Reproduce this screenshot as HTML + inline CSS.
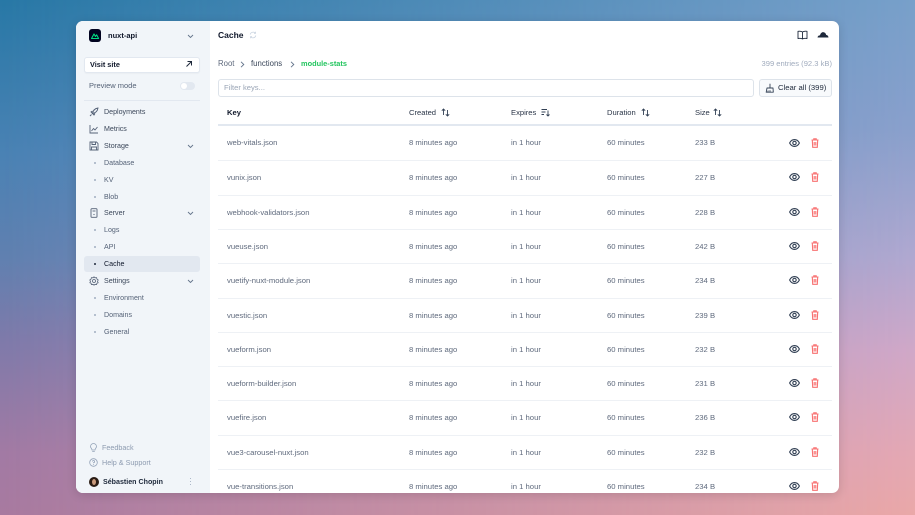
<!DOCTYPE html>
<html><head><meta charset="utf-8"><style>
*{margin:0;padding:0;box-sizing:border-box}
html,body{width:915px;height:515px;overflow:hidden}
body{position:relative;font-family:"Liberation Sans",Arial,sans-serif;}
.bgl{position:absolute;left:0;top:0;width:915px;height:515px;background:linear-gradient(to bottom,#2878a6 0%,#4a82b4 30%,#6080b0 50%,#7e7aaa 66%,#a27aa4 88%,#a87aa0 100%)}
.bgr{position:absolute;left:0;top:0;width:915px;height:515px;background:linear-gradient(to bottom,#78a0ca 0%,#8aa0cc 25%,#b0a8d0 50%,#d0a8c8 68%,#e4a8b4 88%,#eaa8a8 100%);-webkit-mask-image:linear-gradient(to right,transparent,#000);mask-image:linear-gradient(to right,transparent,#000)}
.card{position:absolute;left:76px;top:21px;width:763px;height:472px;border-radius:7px;overflow:hidden;background:#fff;box-shadow:0 2px 10px rgba(0,0,0,.14)}
.side{position:absolute;left:0;top:0;width:134px;height:472px;background:#f1f5f9}
.sb{position:absolute;left:0;top:1px;width:134px;height:471px}
.t{position:absolute;line-height:10px;white-space:nowrap}
.nav{font-size:7.1px;color:#3b475a;left:28px}
.sub{color:#556277}
.dot{position:absolute;left:18px;width:2px;height:2px;border-radius:50%;background:#a0aec0}
.ic{position:absolute}
.row{position:absolute;left:142px;width:614px;height:34.3px}
.row.b{border-top:1px solid #eef1f5}
.row span{position:absolute;top:12px;line-height:10px;font-size:7.7px;color:#5f6a7d;white-space:nowrap}
.hd{font-size:7.6px;color:#2b3648}
</style></head><body>
<div class="bgl"></div><div class="bgr"></div>
<div class="card">
  <div class="side"><div class="sb">
    <div class="ic" style="left:13px;top:7px;width:12px;height:13px;background:#020420;border-radius:3px">
      <svg width="12" height="13" viewBox="0 0 12 13"><path d="M2.5 9.5 L5 5 L6.5 7.5 L7.6 5.8 L9.6 9.5 Z" fill="none" stroke="#00dc82" stroke-width="1.1" stroke-linejoin="round"/></svg>
    </div>
    <div class="t" style="left:32px;top:9px;font-size:7.5px;font-weight:bold;color:#0f172a">nuxt-api</div>
    <svg class="ic" style="left:111px;top:12px" width="7" height="5" viewBox="0 0 7 5"><path d="M1 1 L3.5 3.5 L6 1" fill="none" stroke="#64748b" stroke-width="0.9"/></svg>
    <div class="ic" style="left:8px;top:35px;width:116px;height:16px;background:#fff;border:1px solid #e2e8f0;border-radius:3px;box-shadow:0 1px 1px rgba(0,0,0,.03)"></div>
    <div class="t" style="left:14px;top:38px;font-size:7.3px;font-weight:bold;color:#0f172a">Visit site</div>
    <svg class="ic" style="left:109px;top:38px" width="8" height="8" viewBox="0 0 8 8"><path d="M1.5 6.5 L6.5 1.5 M2.5 1.5 H6.5 V5.5" fill="none" stroke="#1e293b" stroke-width="1"/></svg>
    <div class="t" style="left:13px;top:59px;font-size:7.5px;color:#556277">Preview mode</div>
    <div class="ic" style="left:104px;top:60px;width:15px;height:8px;border-radius:4px;background:#e2e8f0"></div>
    <div class="ic" style="left:105px;top:61px;width:6px;height:6px;border-radius:50%;background:#fff"></div>
    <div class="ic" style="left:8px;top:78px;width:116px;height:1px;background:#e2e8f0"></div>

    <svg class="ic" style="left:13px;top:85px" width="10" height="10" viewBox="0 0 10 10"><path d="M3.5 6.5 C4 3.5 6 1.5 9 1 C8.5 4 6.5 6 3.5 6.5 Z M3.5 6.5 L2 5 L3.5 4 M3.5 6.5 L5 8 L6 6.5 M2.5 7.5 L1 9" fill="none" stroke="#556277" stroke-width="0.9"/></svg>
    <div class="t nav" style="top:85px">Deployments</div>
    <svg class="ic" style="left:13px;top:102px" width="10" height="10" viewBox="0 0 10 10"><path d="M1 1 V9 H9 M2.5 7 L4.5 4.5 L6 6 L8.5 3" fill="none" stroke="#556277" stroke-width="0.9"/></svg>
    <div class="t nav" style="top:102px">Metrics</div>
    <svg class="ic" style="left:13px;top:119px" width="10" height="10" viewBox="0 0 10 10"><path d="M1 1 H7.5 L9 2.5 V9 H1 Z M3 1 V3.5 H6.5 V1 M2.5 9 V6 H7.5 V9" fill="none" stroke="#556277" stroke-width="0.9"/></svg>
    <div class="t nav" style="top:119px">Storage</div>
    <svg class="ic" style="left:111px;top:122px" width="7" height="5" viewBox="0 0 7 5"><path d="M1 1 L3.5 3.5 L6 1" fill="none" stroke="#64748b" stroke-width="0.9"/></svg>
    <div class="dot" style="top:140px"></div><div class="t nav sub" style="top:136px">Database</div>
    <div class="dot" style="top:157px"></div><div class="t nav sub" style="top:153px">KV</div>
    <div class="dot" style="top:174px"></div><div class="t nav sub" style="top:170px">Blob</div>
    <svg class="ic" style="left:13px;top:186px" width="10" height="10" viewBox="0 0 10 10"><rect x="2" y="0.7" width="6" height="8.6" rx="0.8" fill="none" stroke="#556277" stroke-width="0.9"/><path d="M3.5 3 H6.5" stroke="#556277" stroke-width="0.9"/><circle cx="5" cy="6.5" r="0.6" fill="#556277"/></svg>
    <div class="t nav" style="top:186px">Server</div>
    <svg class="ic" style="left:111px;top:189px" width="7" height="5" viewBox="0 0 7 5"><path d="M1 1 L3.5 3.5 L6 1" fill="none" stroke="#64748b" stroke-width="0.9"/></svg>
    <div class="dot" style="top:207px"></div><div class="t nav sub" style="top:203px">Logs</div>
    <div class="dot" style="top:224px"></div><div class="t nav sub" style="top:220px">API</div>
    <div class="ic" style="left:8px;top:234px;width:116px;height:16px;background:#e2e8f0;border-radius:3px"></div>
    <div class="dot" style="top:241px;background:#1e293b"></div><div class="t nav" style="top:237px;color:#0f172a">Cache</div>
    <svg class="ic" style="left:13px;top:254px" width="10" height="10" viewBox="0 0 10 10"><path d="M5 0.8 L6 1.8 L7.6 1.6 L7.9 3.1 L9.2 4 L8.5 5.4 L9.2 6.8 L7.9 7.2 L7.6 8.6 L6 8.3 L5 9.2 L4 8.3 L2.4 8.6 L2.1 7.2 L0.8 6.8 L1.5 5.4 L0.8 4 L2.1 3.1 L2.4 1.6 L4 1.8 Z" fill="none" stroke="#556277" stroke-width="0.8" stroke-linejoin="round"/><circle cx="5" cy="5" r="1.5" fill="none" stroke="#556277" stroke-width="0.8"/></svg>
    <div class="t nav" style="top:254px">Settings</div>
    <svg class="ic" style="left:111px;top:257px" width="7" height="5" viewBox="0 0 7 5"><path d="M1 1 L3.5 3.5 L6 1" fill="none" stroke="#64748b" stroke-width="0.9"/></svg>
    <div class="dot" style="top:275px"></div><div class="t nav sub" style="top:271px">Environment</div>
    <div class="dot" style="top:292px"></div><div class="t nav sub" style="top:288px">Domains</div>
    <div class="dot" style="top:309px"></div><div class="t nav sub" style="top:305px">General</div>

    <svg class="ic" style="left:13px;top:421px" width="9" height="10" viewBox="0 0 9 10"><path d="M3 7 C3 5.5 1.5 5 1.5 3.5 A3 3 0 0 1 7.5 3.5 C7.5 5 6 5.5 6 7 Z M3.2 8.6 H5.8" fill="none" stroke="#94a3b8" stroke-width="0.8"/></svg>
    <div class="t" style="left:26px;top:421px;font-size:7.2px;color:#8d9bb0">Feedback</div>
    <svg class="ic" style="left:13px;top:436px" width="9" height="9" viewBox="0 0 9 9"><circle cx="4.5" cy="4.5" r="3.8" fill="none" stroke="#94a3b8" stroke-width="0.8"/><path d="M3.4 3.5 A1.1 1.1 0 1 1 4.5 4.7 V5.3" fill="none" stroke="#94a3b8" stroke-width="0.8"/><circle cx="4.5" cy="6.6" r="0.45" fill="#94a3b8"/></svg>
    <div class="t" style="left:26px;top:436px;font-size:7.2px;color:#8d9bb0">Help &amp; Support</div>
    <div class="ic" style="left:13px;top:455px;width:10px;height:10px;border-radius:50%;background:#2a1c14"></div>
    <div class="ic" style="left:16px;top:456.5px;width:4px;height:6px;border-radius:50%;background:#c99a7c"></div>
    <div class="t" style="left:27px;top:455px;font-size:7.1px;font-weight:bold;color:#1e293b">Sébastien Chopin</div>
    <div class="ic" style="left:113.5px;top:456px;width:1.2px;height:1.2px;border-radius:50%;background:#94a3b8;box-shadow:0 3px 0 #94a3b8,0 6px 0 #94a3b8"></div>
  </div></div>

  <div class="t" style="left:142px;top:9px;font-size:8.5px;font-weight:bold;color:#0f172a">Cache</div>
  <svg class="ic" style="left:173px;top:10px" width="8" height="8" viewBox="0 0 8 8"><path d="M1.2 3.5 A3 3 0 0 1 6.5 2.3 M6.8 4.5 A3 3 0 0 1 1.5 5.7 M6.5 0.8 V2.4 H5 M1.5 7.2 V5.6 H3" fill="none" stroke="#cbd5e1" stroke-width="0.8"/></svg>
  <svg class="ic" style="left:721px;top:9px" width="11" height="10" viewBox="0 0 11 10"><path d="M5.5 2 C4 1 2.5 1 1 1.3 V8.5 C2.5 8.2 4 8.2 5.5 9 C7 8.2 8.5 8.2 10 8.5 V1.3 C8.5 1 7 1 5.5 2 Z M5.5 2 V9" fill="none" stroke="#1e293b" stroke-width="0.9" stroke-linejoin="round"/></svg>
  <svg class="ic" style="left:741px;top:10px" width="12" height="7" viewBox="0 0 12 7"><path d="M0.5 6.5 C0.8 4.8 2 4.2 3 4.4 C3.5 2.2 5 1 6.5 1.2 C8.2 1.4 9 2.8 9.2 4 C10.5 4 11.4 5 11.5 6.5 Z" fill="#1e293b"/></svg>

  <div class="t" style="left:142px;top:38px;font-size:7.8px;color:#5f6a7d">Root</div>
  <svg class="ic" style="left:164px;top:40px" width="5" height="7" viewBox="0 0 5 7"><path d="M1 0.8 L3.8 3.5 L1 6.2" fill="none" stroke="#64748b" stroke-width="0.9"/></svg>
  <div class="t" style="left:175px;top:38px;font-size:7.8px;color:#3b475a">functions</div>
  <svg class="ic" style="left:214px;top:40px" width="5" height="7" viewBox="0 0 5 7"><path d="M1 0.8 L3.8 3.5 L1 6.2" fill="none" stroke="#64748b" stroke-width="0.9"/></svg>
  <div class="t" style="left:225px;top:38px;font-size:7.4px;font-weight:bold;color:#22c55e">module-stats</div>
  <div class="t" style="right:7px;top:38px;font-size:7.6px;color:#a0abbd">399 entries (92.3 kB)</div>

  <div class="ic" style="left:142px;top:58px;width:536px;height:18px;border:1px solid #dde3ea;border-radius:3px;background:#fff"></div>
  <div class="t" style="left:148px;top:62px;font-size:7.6px;color:#9aa5b6">Filter keys...</div>
  <div class="ic" style="left:683px;top:58px;width:73px;height:18px;border:1px solid #dde3ea;border-radius:3px;background:#f8fafc"></div>
  <svg class="ic" style="left:689px;top:62px" width="9" height="10" viewBox="0 0 9 10"><path d="M5 0.8 V4.5 M2 5 H8 L8.3 9.2 H1.2 Z M2.8 9.2 L3.2 7.5 M5 9.2 V7.2" fill="none" stroke="#334155" stroke-width="0.9" stroke-linejoin="round"/></svg>
  <div class="t" style="left:702px;top:62px;font-size:7.7px;color:#1e293b">Clear all (399)</div>

  <div class="t" style="left:151px;top:87px;font-size:7.6px;font-weight:bold;color:#0f172a">Key</div>
  <div class="t hd" style="left:333px;top:87px">Created</div>
  <svg class="ic" style="left:365px;top:87px" width="9" height="9" viewBox="0 0 9 9"><path d="M2.5 7 V1 M0.8 2.7 L2.5 1 L4.2 2.7 M6.5 2 V8 M4.8 6.3 L6.5 8 L8.2 6.3" fill="none" stroke="#334155" stroke-width="0.9"/></svg>
  <div class="t hd" style="left:435px;top:87px">Expires</div>
  <svg class="ic" style="left:465px;top:87px" width="9" height="9" viewBox="0 0 9 9"><path d="M0.5 1.5 H6 M0.5 4 H4.5 M0.5 6.5 H3 M7 2.5 V8 M5.5 6.5 L7 8 L8.5 6.5" fill="none" stroke="#334155" stroke-width="0.9"/></svg>
  <div class="t hd" style="left:531px;top:87px">Duration</div>
  <svg class="ic" style="left:565px;top:87px" width="9" height="9" viewBox="0 0 9 9"><path d="M2.5 7 V1 M0.8 2.7 L2.5 1 L4.2 2.7 M6.5 2 V8 M4.8 6.3 L6.5 8 L8.2 6.3" fill="none" stroke="#334155" stroke-width="0.9"/></svg>
  <div class="t hd" style="left:619px;top:87px">Size</div>
  <svg class="ic" style="left:637px;top:87px" width="9" height="9" viewBox="0 0 9 9"><path d="M2.5 7 V1 M0.8 2.7 L2.5 1 L4.2 2.7 M6.5 2 V8 M4.8 6.3 L6.5 8 L8.2 6.3" fill="none" stroke="#334155" stroke-width="0.9"/></svg>
  <div class="ic" style="left:142px;top:103px;width:614px;height:1.6px;background:#e2e8f0"></div>

  <div class="row" style="top:105px"><span style="left:9px">web-vitals.json</span><span style="left:191px">8 minutes ago</span><span style="left:293px">in 1 hour</span><span style="left:389px">60 minutes</span><span style="left:477px">233 B</span>
    <svg style="position:absolute;left:571px;top:13px" width="11" height="8" viewBox="0 0 11 8"><path d="M0.6 4 C2 1.3 3.6 0.6 5.5 0.6 C7.4 0.6 9 1.3 10.4 4 C9 6.7 7.4 7.4 5.5 7.4 C3.6 7.4 2 6.7 0.6 4 Z" fill="none" stroke="#334155" stroke-width="1.1"/><circle cx="5.5" cy="4" r="1.7" fill="none" stroke="#334155" stroke-width="1.1"/></svg>
    <svg style="position:absolute;left:593px;top:12px" width="8" height="10" viewBox="0 0 8 10"><path d="M0.5 2 H7.5 M2.8 2 V0.8 H5.2 V2 M1.3 2 L1.7 9.3 H6.3 L6.7 2 M3.2 4 V7.5 M4.8 4 V7.5" fill="none" stroke="#f87171" stroke-width="1.1"/></svg></div>
  <div class="row b" style="top:139.3px"><span style="left:9px">vunix.json</span><span style="left:191px">8 minutes ago</span><span style="left:293px">in 1 hour</span><span style="left:389px">60 minutes</span><span style="left:477px">227 B</span>
    <svg style="position:absolute;left:571px;top:12px" width="11" height="8" viewBox="0 0 11 8"><path d="M0.6 4 C2 1.3 3.6 0.6 5.5 0.6 C7.4 0.6 9 1.3 10.4 4 C9 6.7 7.4 7.4 5.5 7.4 C3.6 7.4 2 6.7 0.6 4 Z" fill="none" stroke="#334155" stroke-width="1.1"/><circle cx="5.5" cy="4" r="1.7" fill="none" stroke="#334155" stroke-width="1.1"/></svg>
    <svg style="position:absolute;left:593px;top:11px" width="8" height="10" viewBox="0 0 8 10"><path d="M0.5 2 H7.5 M2.8 2 V0.8 H5.2 V2 M1.3 2 L1.7 9.3 H6.3 L6.7 2 M3.2 4 V7.5 M4.8 4 V7.5" fill="none" stroke="#f87171" stroke-width="1.1"/></svg></div>
  <div class="row b" style="top:173.6px"><span style="left:9px">webhook-validators.json</span><span style="left:191px">8 minutes ago</span><span style="left:293px">in 1 hour</span><span style="left:389px">60 minutes</span><span style="left:477px">228 B</span>
    <svg style="position:absolute;left:571px;top:12px" width="11" height="8" viewBox="0 0 11 8"><path d="M0.6 4 C2 1.3 3.6 0.6 5.5 0.6 C7.4 0.6 9 1.3 10.4 4 C9 6.7 7.4 7.4 5.5 7.4 C3.6 7.4 2 6.7 0.6 4 Z" fill="none" stroke="#334155" stroke-width="1.1"/><circle cx="5.5" cy="4" r="1.7" fill="none" stroke="#334155" stroke-width="1.1"/></svg>
    <svg style="position:absolute;left:593px;top:11px" width="8" height="10" viewBox="0 0 8 10"><path d="M0.5 2 H7.5 M2.8 2 V0.8 H5.2 V2 M1.3 2 L1.7 9.3 H6.3 L6.7 2 M3.2 4 V7.5 M4.8 4 V7.5" fill="none" stroke="#f87171" stroke-width="1.1"/></svg></div>
  <div class="row b" style="top:207.9px"><span style="left:9px">vueuse.json</span><span style="left:191px">8 minutes ago</span><span style="left:293px">in 1 hour</span><span style="left:389px">60 minutes</span><span style="left:477px">242 B</span>
    <svg style="position:absolute;left:571px;top:12px" width="11" height="8" viewBox="0 0 11 8"><path d="M0.6 4 C2 1.3 3.6 0.6 5.5 0.6 C7.4 0.6 9 1.3 10.4 4 C9 6.7 7.4 7.4 5.5 7.4 C3.6 7.4 2 6.7 0.6 4 Z" fill="none" stroke="#334155" stroke-width="1.1"/><circle cx="5.5" cy="4" r="1.7" fill="none" stroke="#334155" stroke-width="1.1"/></svg>
    <svg style="position:absolute;left:593px;top:11px" width="8" height="10" viewBox="0 0 8 10"><path d="M0.5 2 H7.5 M2.8 2 V0.8 H5.2 V2 M1.3 2 L1.7 9.3 H6.3 L6.7 2 M3.2 4 V7.5 M4.8 4 V7.5" fill="none" stroke="#f87171" stroke-width="1.1"/></svg></div>
  <div class="row b" style="top:242.2px"><span style="left:9px">vuetify-nuxt-module.json</span><span style="left:191px">8 minutes ago</span><span style="left:293px">in 1 hour</span><span style="left:389px">60 minutes</span><span style="left:477px">234 B</span>
    <svg style="position:absolute;left:571px;top:12px" width="11" height="8" viewBox="0 0 11 8"><path d="M0.6 4 C2 1.3 3.6 0.6 5.5 0.6 C7.4 0.6 9 1.3 10.4 4 C9 6.7 7.4 7.4 5.5 7.4 C3.6 7.4 2 6.7 0.6 4 Z" fill="none" stroke="#334155" stroke-width="1.1"/><circle cx="5.5" cy="4" r="1.7" fill="none" stroke="#334155" stroke-width="1.1"/></svg>
    <svg style="position:absolute;left:593px;top:11px" width="8" height="10" viewBox="0 0 8 10"><path d="M0.5 2 H7.5 M2.8 2 V0.8 H5.2 V2 M1.3 2 L1.7 9.3 H6.3 L6.7 2 M3.2 4 V7.5 M4.8 4 V7.5" fill="none" stroke="#f87171" stroke-width="1.1"/></svg></div>
  <div class="row b" style="top:276.5px"><span style="left:9px">vuestic.json</span><span style="left:191px">8 minutes ago</span><span style="left:293px">in 1 hour</span><span style="left:389px">60 minutes</span><span style="left:477px">239 B</span>
    <svg style="position:absolute;left:571px;top:12px" width="11" height="8" viewBox="0 0 11 8"><path d="M0.6 4 C2 1.3 3.6 0.6 5.5 0.6 C7.4 0.6 9 1.3 10.4 4 C9 6.7 7.4 7.4 5.5 7.4 C3.6 7.4 2 6.7 0.6 4 Z" fill="none" stroke="#334155" stroke-width="1.1"/><circle cx="5.5" cy="4" r="1.7" fill="none" stroke="#334155" stroke-width="1.1"/></svg>
    <svg style="position:absolute;left:593px;top:11px" width="8" height="10" viewBox="0 0 8 10"><path d="M0.5 2 H7.5 M2.8 2 V0.8 H5.2 V2 M1.3 2 L1.7 9.3 H6.3 L6.7 2 M3.2 4 V7.5 M4.8 4 V7.5" fill="none" stroke="#f87171" stroke-width="1.1"/></svg></div>
  <div class="row b" style="top:310.8px"><span style="left:9px">vueform.json</span><span style="left:191px">8 minutes ago</span><span style="left:293px">in 1 hour</span><span style="left:389px">60 minutes</span><span style="left:477px">232 B</span>
    <svg style="position:absolute;left:571px;top:12px" width="11" height="8" viewBox="0 0 11 8"><path d="M0.6 4 C2 1.3 3.6 0.6 5.5 0.6 C7.4 0.6 9 1.3 10.4 4 C9 6.7 7.4 7.4 5.5 7.4 C3.6 7.4 2 6.7 0.6 4 Z" fill="none" stroke="#334155" stroke-width="1.1"/><circle cx="5.5" cy="4" r="1.7" fill="none" stroke="#334155" stroke-width="1.1"/></svg>
    <svg style="position:absolute;left:593px;top:11px" width="8" height="10" viewBox="0 0 8 10"><path d="M0.5 2 H7.5 M2.8 2 V0.8 H5.2 V2 M1.3 2 L1.7 9.3 H6.3 L6.7 2 M3.2 4 V7.5 M4.8 4 V7.5" fill="none" stroke="#f87171" stroke-width="1.1"/></svg></div>
  <div class="row b" style="top:345.1px"><span style="left:9px">vueform-builder.json</span><span style="left:191px">8 minutes ago</span><span style="left:293px">in 1 hour</span><span style="left:389px">60 minutes</span><span style="left:477px">231 B</span>
    <svg style="position:absolute;left:571px;top:12px" width="11" height="8" viewBox="0 0 11 8"><path d="M0.6 4 C2 1.3 3.6 0.6 5.5 0.6 C7.4 0.6 9 1.3 10.4 4 C9 6.7 7.4 7.4 5.5 7.4 C3.6 7.4 2 6.7 0.6 4 Z" fill="none" stroke="#334155" stroke-width="1.1"/><circle cx="5.5" cy="4" r="1.7" fill="none" stroke="#334155" stroke-width="1.1"/></svg>
    <svg style="position:absolute;left:593px;top:11px" width="8" height="10" viewBox="0 0 8 10"><path d="M0.5 2 H7.5 M2.8 2 V0.8 H5.2 V2 M1.3 2 L1.7 9.3 H6.3 L6.7 2 M3.2 4 V7.5 M4.8 4 V7.5" fill="none" stroke="#f87171" stroke-width="1.1"/></svg></div>
  <div class="row b" style="top:379.4px"><span style="left:9px">vuefire.json</span><span style="left:191px">8 minutes ago</span><span style="left:293px">in 1 hour</span><span style="left:389px">60 minutes</span><span style="left:477px">236 B</span>
    <svg style="position:absolute;left:571px;top:12px" width="11" height="8" viewBox="0 0 11 8"><path d="M0.6 4 C2 1.3 3.6 0.6 5.5 0.6 C7.4 0.6 9 1.3 10.4 4 C9 6.7 7.4 7.4 5.5 7.4 C3.6 7.4 2 6.7 0.6 4 Z" fill="none" stroke="#334155" stroke-width="1.1"/><circle cx="5.5" cy="4" r="1.7" fill="none" stroke="#334155" stroke-width="1.1"/></svg>
    <svg style="position:absolute;left:593px;top:11px" width="8" height="10" viewBox="0 0 8 10"><path d="M0.5 2 H7.5 M2.8 2 V0.8 H5.2 V2 M1.3 2 L1.7 9.3 H6.3 L6.7 2 M3.2 4 V7.5 M4.8 4 V7.5" fill="none" stroke="#f87171" stroke-width="1.1"/></svg></div>
  <div class="row b" style="top:413.7px"><span style="left:9px">vue3-carousel-nuxt.json</span><span style="left:191px">8 minutes ago</span><span style="left:293px">in 1 hour</span><span style="left:389px">60 minutes</span><span style="left:477px">232 B</span>
    <svg style="position:absolute;left:571px;top:12px" width="11" height="8" viewBox="0 0 11 8"><path d="M0.6 4 C2 1.3 3.6 0.6 5.5 0.6 C7.4 0.6 9 1.3 10.4 4 C9 6.7 7.4 7.4 5.5 7.4 C3.6 7.4 2 6.7 0.6 4 Z" fill="none" stroke="#334155" stroke-width="1.1"/><circle cx="5.5" cy="4" r="1.7" fill="none" stroke="#334155" stroke-width="1.1"/></svg>
    <svg style="position:absolute;left:593px;top:11px" width="8" height="10" viewBox="0 0 8 10"><path d="M0.5 2 H7.5 M2.8 2 V0.8 H5.2 V2 M1.3 2 L1.7 9.3 H6.3 L6.7 2 M3.2 4 V7.5 M4.8 4 V7.5" fill="none" stroke="#f87171" stroke-width="1.1"/></svg></div>
  <div class="row b" style="top:448px"><span style="left:9px">vue-transitions.json</span><span style="left:191px">8 minutes ago</span><span style="left:293px">in 1 hour</span><span style="left:389px">60 minutes</span><span style="left:477px">234 B</span>
    <svg style="position:absolute;left:571px;top:12px" width="11" height="8" viewBox="0 0 11 8"><path d="M0.6 4 C2 1.3 3.6 0.6 5.5 0.6 C7.4 0.6 9 1.3 10.4 4 C9 6.7 7.4 7.4 5.5 7.4 C3.6 7.4 2 6.7 0.6 4 Z" fill="none" stroke="#334155" stroke-width="1.1"/><circle cx="5.5" cy="4" r="1.7" fill="none" stroke="#334155" stroke-width="1.1"/></svg>
    <svg style="position:absolute;left:593px;top:11px" width="8" height="10" viewBox="0 0 8 10"><path d="M0.5 2 H7.5 M2.8 2 V0.8 H5.2 V2 M1.3 2 L1.7 9.3 H6.3 L6.7 2 M3.2 4 V7.5 M4.8 4 V7.5" fill="none" stroke="#f87171" stroke-width="1.1"/></svg></div>
</div>
</body></html>
